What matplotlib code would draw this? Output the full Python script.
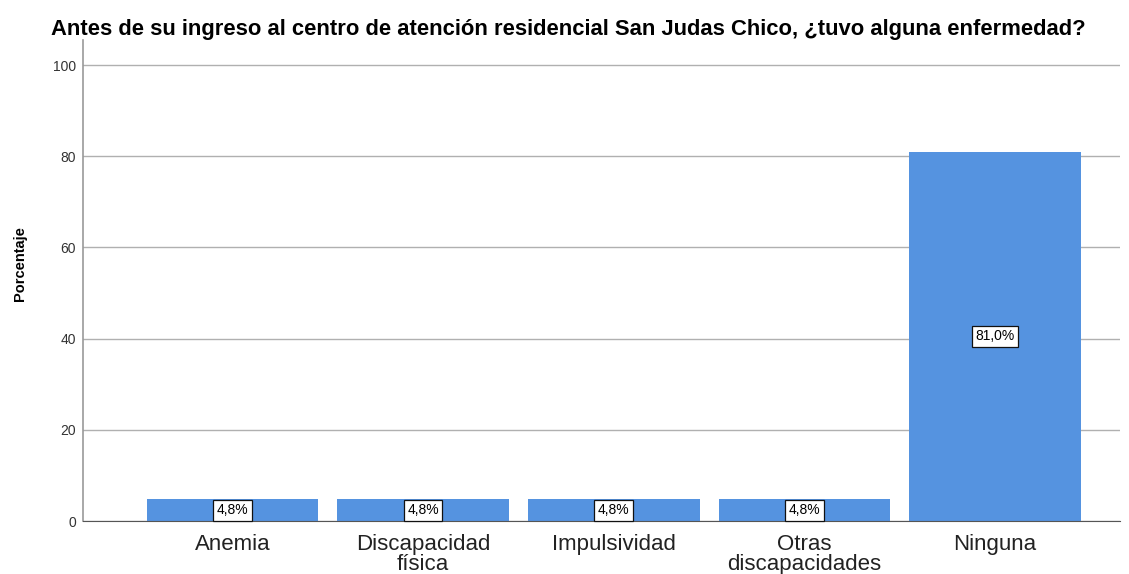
import matplotlib.pyplot as plt
import numpy as np

categorias = ["Anemia", "Discapacidad\nfísica", "Impulsividad", "Otras\ndiscapacidades", "Ninguna"]
porcentajes = [4.8, 4.8, 4.8, 4.8, 81.0]
etiquetas = ["4,8%", "4,8%", "4,8%", "4,8%", "81,0%"]
yticks = [0, 20, 40, 60, 80, 100]

plt.rcParams['font.family'] = ['Liberation Sans', 'DejaVu Sans']

fig = plt.figure(figsize=(11.29, 5.74), dpi=100)
ax = fig.add_axes([0.0735, 0.0923, 0.9185, 0.838])

x = np.arange(len(categorias))
ax.bar(x, porcentajes, width=0.9, color='#5593e0', zorder=2)

for xi, v, t in zip(x, porcentajes, etiquetas):
    ax.text(xi, v / 2, t, ha='center', va='center', fontsize=10, zorder=3,
            bbox=dict(boxstyle='square,pad=0.25', fc='white', ec='#111111', lw=0.9))

ax.set_xlim(-0.785, 4.656)
ax.set_ylim(0, 105.5)
ax.set_yticks(yticks)
ax.set_xticks(x)
ax.set_xticklabels(categorias, fontsize=16, color='#222222', linespacing=0.95)
ax.tick_params(axis='x', length=0, pad=9)
ax.tick_params(axis='y', length=0, labelsize=10, colors='#333333', pad=5)
ax.yaxis.grid(True, color='#b0b0b0', lw=1, zorder=0)

for s in ['top', 'right']:
    ax.spines[s].set_visible(False)
ax.spines['left'].set_color('#999999')
ax.spines['left'].set_linewidth(1.2)
ax.spines['bottom'].set_color('#555555')

fig.text(0.018, 0.54, "Porcentaje", rotation=90, ha='center', va='center',
         fontsize=10.5, fontweight='bold')
fig.text(0.503, 0.949, "Antes de su ingreso al centro de atención residencial San Judas Chico, ¿tuvo alguna enfermedad?",
         ha='center', va='center', fontsize=15.8, fontweight='bold')

fig.savefig('out.png', dpi=100)
